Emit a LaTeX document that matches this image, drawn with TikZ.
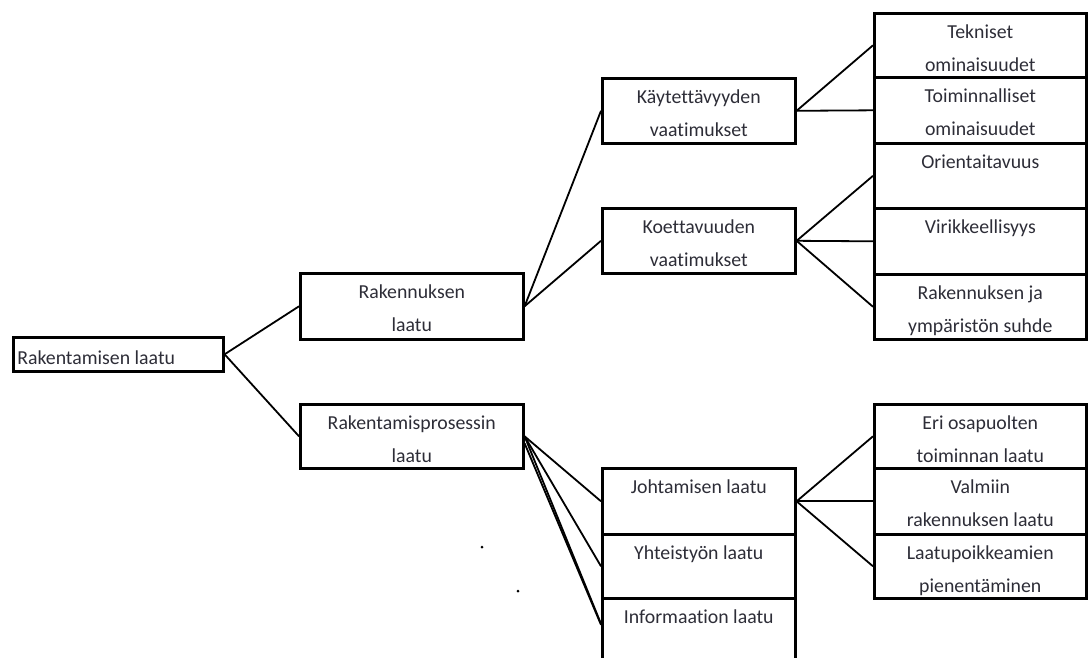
\documentclass[tikz,border=0pt]{standalone}
\usepackage{fontspec}
\setmainfont{Carlito}[Ligatures={NoCommon}]
\usetikzlibrary{calc}
\definecolor{txt}{RGB}{45,45,55}
\newcommand{\bxt}[3]{\parbox[c][#2pt][t]{#1pt}{\centering\fontsize{19.8}{33}\selectfont\rule{0pt}{25pt}#3}}
\tikzset{
  box/.style={draw=black, line width=2.6pt, inner sep=0pt, anchor=north west, text=txt},
  conn/.style={draw=black, line width=1.8pt},
}
\begin{document}
\begin{tikzpicture}[x=1pt,y=-1pt]
\useasboundingbox (0,0) rectangle (1088,657);
\clip (0,0) rectangle (1088,657);
% root
\node[box] (root) at (12,336) {\parbox[c][34pt][t]{210pt}{\fontsize{19.8}{33}\selectfont\rule{0pt}{27pt}\hspace{4pt}Rakentamisen laatu}};
% level 1
\node[box] (rak) at (299,272) {\bxt{223}{66}{Rakennuksen\\laatu}};
\node[box] (proc) at (299,403) {\bxt{223}{64}{Rakentamisprosessin\\laatu}};
% level 2 upper
\node[box] (kay) at (601,77) {\bxt{193}{65}{Käytettävyyden\\vaatimukset}};
\node[box] (koe) at (601,207) {\bxt{193}{65}{Koettavuuden\\vaatimukset}};
% level 2 lower
\node[box] (joh) at (601,467) {\bxt{193}{66}{Johtamisen laatu}};
\node[box] (yht) at (601,533) {\bxt{193}{64}{Yhteistyön laatu}};
\node[box] (inf) at (601,597) {\bxt{193}{65}{Informaation laatu}};
% right column upper
\node[box] (tek) at (873,12) {\bxt{212}{64}{Tekniset\\ominaisuudet}};
\node[box] (toi) at (873,76) {\bxt{212}{66}{Toiminnalliset\\ominaisuudet}};
\node[box] (ori) at (873,142) {\bxt{212}{65}{Orientaitavuus}};
\node[box] (vir) at (873,207) {\bxt{212}{66}{Virikkeellisyys}};
\node[box] (ymp) at (873,273) {\bxt{212}{65}{Rakennuksen ja\\ympäristön suhde}};
% right column lower
\node[box] (eri) at (873,403) {\bxt{212}{64}{Eri osapuolten\\toiminnan laatu}};
\node[box] (val) at (873,467) {\bxt{212}{66}{Valmiin\\rakennuksen laatu}};
\node[box] (lpk) at (873,533) {\bxt{212}{64}{Laatupoikkeamien\\pienentäminen}};
% connectors
\draw[conn] (root.east) -- (rak.west);
\draw[conn] (root.east) -- (proc.west);
\draw[conn] (rak.east) -- (kay.west);
\draw[conn] (rak.east) -- (koe.west);
\draw[conn] (kay.east) -- (tek.west);
\draw[conn] (kay.east) -- (toi.west);
\draw[conn] (koe.east) -- (ori.west);
\draw[conn] (koe.east) -- (vir.west);
\draw[conn] (koe.east) -- (ymp.west);
\draw[conn] (proc.east) -- (joh.west);
\draw[conn] (proc.east) -- (yht.west);
\draw[conn] (proc.east) -- ([yshift=7pt]inf.west);
\draw[conn] ([yshift=-7pt]proc.east) -- ([yshift=6pt]inf.west);
\draw[conn] (joh.east) -- (eri.west);
\draw[conn] (joh.east) -- (val.west);
\draw[conn] (joh.east) -- (lpk.west);
% stray dots
\fill (482,547) circle (1.5pt);
\fill (518,591) circle (1.5pt);
\end{tikzpicture}
\end{document}
